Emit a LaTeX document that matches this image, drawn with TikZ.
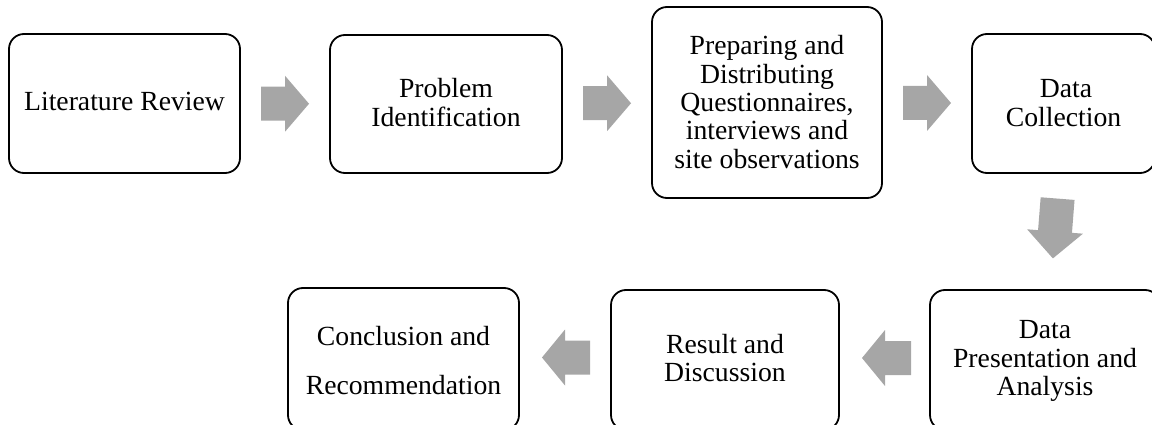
\documentclass[tikz,border=0pt]{standalone}
\usepackage{fontspec}
\setmainfont{Liberation Serif}
\usetikzlibrary{calc}
\definecolor{arrowgray}{RGB}{166,166,166}
\tikzset{
  stepbox/.style={draw=black, line width=1.8pt, rounded corners=15pt, fill=white, inner sep=0pt},
  lbl/.style={anchor=base, inner sep=0pt, font=\fontsize{27.7}{28.5}\selectfont},
}
% #1 centre, #2 angle, #3 shaft length, #4 head length
\newcommand{\blockarrow}[4]{%
  \fill[arrowgray, shift={(#1)}, rotate=#2]
    ({-(#3+#4)/2},-17) -- ({-(#3+#4)/2+#3},-17) -- ({-(#3+#4)/2+#3},-28)
    -- ({(#3+#4)/2},0) -- ({-(#3+#4)/2+#3},28) -- ({-(#3+#4)/2+#3},17)
    -- ({-(#3+#4)/2},17) -- cycle;}
\begin{document}
\begin{tikzpicture}[x=1pt,y=-1pt]
\useasboundingbox (0,0) rectangle (1152,425);
\clip (0,0) rectangle (1152,425);
% boxes
\node[stepbox, minimum width=231pt, minimum height=139pt] (b1) at (124.5,103.5) {};
\node[stepbox, minimum width=232pt, minimum height=138pt] (b2) at (446,104) {};
\node[stepbox, minimum width=230pt, minimum height=191pt] (b3) at (767,102.5) {};
\node[stepbox, minimum width=183pt, minimum height=139pt] (b4) at (1063.5,103.5) {};
\node[stepbox, minimum width=230pt, minimum height=140pt] (b5) at (1045,360) {};
\node[stepbox, minimum width=228pt, minimum height=140pt] (b6) at (725,360) {};
\node[stepbox, minimum width=231pt, minimum height=142pt] (b7) at (403.5,359) {};
% texts
\node[lbl] (t1) at (124.5,111) {Literature Review};
\node[lbl] (t2a) at (446,98) {Problem};
\node[lbl] (t2b) at (446,127) {Identification};
\node[lbl] (t3a) at (767,55) {Preparing and};
\node[lbl] (t3b) at (767,83.5) {Distributing};
\node[lbl] (t3c) at (767,112) {Questionnaires,};
\node[lbl] (t3d) at (767,140) {interviews and};
\node[lbl] (t3e) at (767,168) {site observations};
\node[lbl] (t4a) at (1066,98) {Data};
\node[lbl] (t4b) at (1063.5,127) {Collection};
\node[lbl] (t5a) at (1045,338) {Data};
\node[lbl] (t5b) at (1045,367) {Presentation and};
\node[lbl] (t5c) at (1045,395) {Analysis};
\node[lbl] (t6a) at (725,353) {Result and};
\node[lbl] (t6b) at (725,381) {Discussion};
\node[lbl] (t7a) at (403.5,345) {Conclusion and};
\node[lbl] (t7b) at (403.5,394) {Recommendation};
% block arrows
\coordinate (a1) at ($(b1.east)!0.5!(b2.west)$);
\coordinate (a2) at ($(b2.east)!0.5!(b3.west)$);
\coordinate (a3) at ($(b3.east)!0.5!(b4.west)$);
\coordinate (a4) at ($(b4.south)!0.5!(b5.north)+(1,-3)$);
\coordinate (a5) at ($(b6.east)!0.5!(b5.west)+(2,-2)$);
\coordinate (a6) at ($(b7.east)!0.5!(b6.west)+(1,-2)$);
\blockarrow{a1}{0}{24}{24}
\blockarrow{a2}{0}{24}{24}
\blockarrow{a3}{0}{24}{24}
\blockarrow{a4}{-94.5}{33}{27}
\blockarrow{a5}{180}{26}{23}
\blockarrow{a6}{180}{25}{23}
\end{tikzpicture}
\end{document}
